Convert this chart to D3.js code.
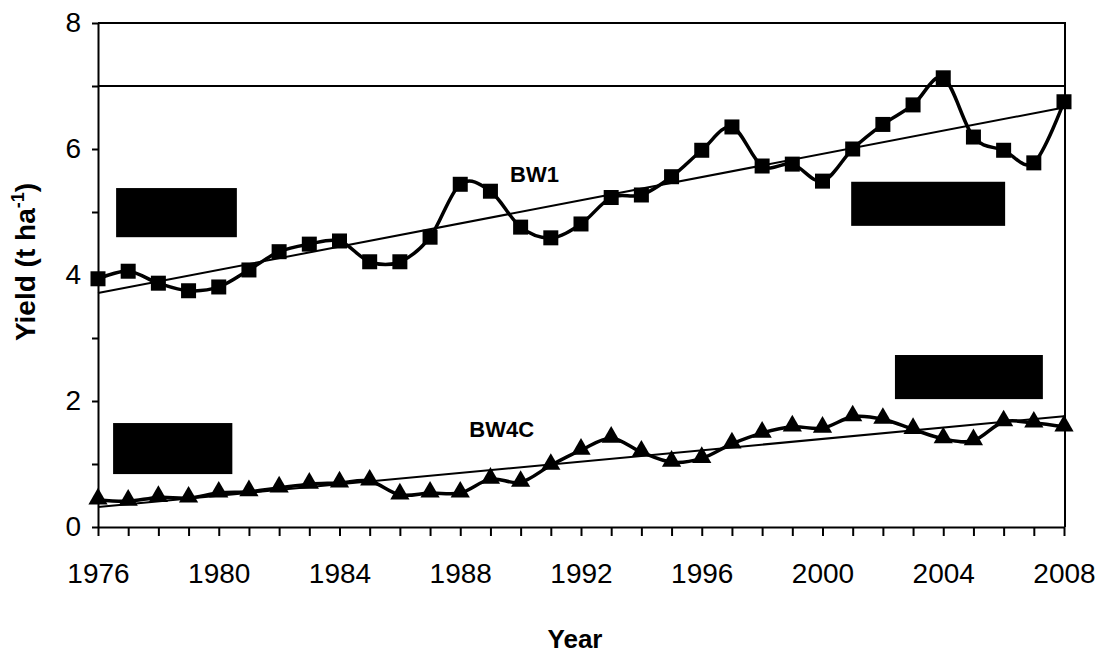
<script src="https://d3js.org/d3.v7.min.js"></script>
<style type="text/css">
  body {
    margin: 0;
    background: #fff;
  }
  svg {
    font-family: "Liberation Sans", Arial, sans-serif;
  }
  .axis path, .axis line {
    stroke: #000;
    stroke-width: 2;
  }
  .axis text {
    font-size: 28px;
    fill: #000;
  }
</style>

<body></body>

<script>
  // data
  var years = d3.range(1976, 2009);
  var bw1 = [3.94, 4.06, 3.87, 3.75, 3.81, 4.08, 4.37, 4.49, 4.54, 4.21, 4.21,
    4.60, 5.44, 5.33, 4.76, 4.59, 4.81, 5.23, 5.27, 5.56, 5.98, 6.35, 5.73,
    5.76, 5.49, 6.00, 6.39, 6.70, 7.13, 6.19, 5.98, 5.78, 6.75];
  var bw4c = [0.43, 0.41, 0.47, 0.46, 0.54, 0.56, 0.62, 0.68, 0.70, 0.73, 0.51,
    0.54, 0.54, 0.76, 0.71, 0.98, 1.22, 1.41, 1.19, 1.03, 1.09, 1.32, 1.49,
    1.59, 1.57, 1.75, 1.71, 1.55, 1.40, 1.37, 1.67, 1.65, 1.59];
  var yTicks = [0, 1, 2, 3, 4, 5, 6, 7, 8];
  var yLabels = [0, 2, 4, 6, 8];
  var xLabels = [1976, 1980, 1984, 1988, 1992, 1996, 2000, 2004, 2008];
  var refLine = 7;
  // blacked-out boxes, in data units [year0, year1, yieldTop, yieldBottom]
  var boxes = [
    [1976.6, 1980.6, 5.38, 4.60],
    [1976.5, 1980.45, 1.65, 0.84],
    [2000.95, 2006.05, 5.48, 4.78],
    [2002.4, 2007.3, 2.73, 2.03]
  ];

  var width = 1097;
  var height = 658;
  var svg = d3.select('body').append('svg')
    .attr('width', width)
    .attr('height', height);

  // scales
  var xScale = d3.scaleLinear().domain([1976, 2008]).range([98, 1064]);
  var yScale = d3.scaleLinear().domain([0, 8]).range([527, 23]);

  // plot frame: top and right edges plus the line at 7
  svg.append('line')
    .attr('x1', xScale(1976)).attr('x2', xScale(2008) + 2)
    .attr('y1', yScale(8)).attr('y2', yScale(8))
    .attr('stroke', '#000').attr('stroke-width', 2);
  svg.append('line')
    .attr('x1', xScale(2008) + 1).attr('x2', xScale(2008) + 1)
    .attr('y1', yScale(8)).attr('y2', yScale(0))
    .attr('stroke', '#000').attr('stroke-width', 2);
  svg.append('line')
    .attr('x1', xScale(1976)).attr('x2', xScale(2008) + 2)
    .attr('y1', yScale(refLine)).attr('y2', yScale(refLine))
    .attr('stroke', '#000').attr('stroke-width', 2);

  // axes
  svg.append('g')
    .attr('class', 'axis')
    .attr('transform', 'translate(0,' + yScale(0) + ')')
    .call(d3.axisBottom(xScale)
      .tickValues(years)
      .tickSize(9)
      .tickSizeOuter(0)
      .tickPadding(27)
      .tickFormat(function(d) { return xLabels.indexOf(d) >= 0 ? d : ''; }));

  svg.append('g')
    .attr('class', 'axis')
    .attr('transform', 'translate(' + xScale(1976) + ',0)')
    .call(d3.axisLeft(yScale)
      .tickValues(yTicks)
      .tickSize(6)
      .tickSizeOuter(0)
      .tickPadding(11)
      .tickFormat(function(d) { return yLabels.indexOf(d) >= 0 ? d : ''; }));

  // linear trend lines (least squares)
  function fit(vals) {
    var mx = d3.mean(years), my = d3.mean(vals);
    var num = 0, den = 0;
    years.forEach(function(x, i) {
      num += (x - mx) * (vals[i] - my);
      den += (x - mx) * (x - mx);
    });
    var b = num / den;
    return function(x) { return my + b * (x - mx); };
  }
  [bw1, bw4c].forEach(function(vals) {
    var f = fit(vals);
    svg.append('line')
      .attr('x1', xScale(1976)).attr('y1', yScale(f(1976)))
      .attr('x2', xScale(2008)).attr('y2', yScale(f(2008)))
      .attr('stroke', '#000').attr('stroke-width', 2);
  });

  // smoothed series lines
  var line = d3.line()
    .x(function(d, i) { return xScale(years[i]); })
    .y(function(d) { return yScale(d); })
    .curve(d3.curveCardinal.tension(0));

  svg.append('path').datum(bw1)
    .attr('d', line)
    .attr('fill', 'none').attr('stroke', '#000').attr('stroke-width', 3.5);
  svg.append('path').datum(bw4c)
    .attr('d', line)
    .attr('fill', 'none').attr('stroke', '#000').attr('stroke-width', 3.5);

  // markers
  svg.selectAll('rect.sq').data(bw1).enter().append('rect')
    .attr('class', 'sq')
    .attr('x', function(d, i) { return xScale(years[i]) - 7.5; })
    .attr('y', function(d) { return yScale(d) - 7.5; })
    .attr('width', 15).attr('height', 15)
    .attr('fill', '#000');

  var tri = d3.symbol().type(d3.symbolTriangle).size(160);
  svg.selectAll('path.tri').data(bw4c).enter().append('path')
    .attr('class', 'tri')
    .attr('d', tri)
    .attr('transform', function(d, i) {
      return 'translate(' + xScale(years[i]) + ',' + (yScale(d) - 1) + ')';
    })
    .attr('fill', '#000');

  // series labels
  svg.append('text')
    .attr('x', xScale(1989.65)).attr('y', yScale(5.48))
    .attr('font-size', 22).attr('font-weight', 'bold')
    .text('BW1');
  svg.append('text')
    .attr('x', xScale(1988.3)).attr('y', yScale(1.43))
    .attr('font-size', 22).attr('font-weight', 'bold')
    .text('BW4C');

  // blacked-out boxes
  svg.selectAll('rect.box').data(boxes).enter().append('rect')
    .attr('class', 'box')
    .attr('x', function(d) { return xScale(d[0]); })
    .attr('y', function(d) { return yScale(d[2]); })
    .attr('width', function(d) { return xScale(d[1]) - xScale(d[0]); })
    .attr('height', function(d) { return yScale(d[3]) - yScale(d[2]); })
    .attr('fill', '#000');

  // axis titles
  svg.append('text')
    .attr('x', (xScale(1976) + xScale(2008)) / 2 - 6)
    .attr('y', 648)
    .attr('text-anchor', 'middle')
    .attr('font-size', 26).attr('font-weight', 'bold')
    .text('Year');

  var yt = svg.append('text')
    .attr('transform', 'translate(35,262) rotate(-90)')
    .attr('text-anchor', 'middle')
    .attr('font-size', 28).attr('font-weight', 'bold');
  yt.append('tspan').text('Yield (t ha');
  yt.append('tspan').attr('dy', -11).attr('font-size', 18).text('-1');
  yt.append('tspan').attr('dy', 11).text(')');
</script>
